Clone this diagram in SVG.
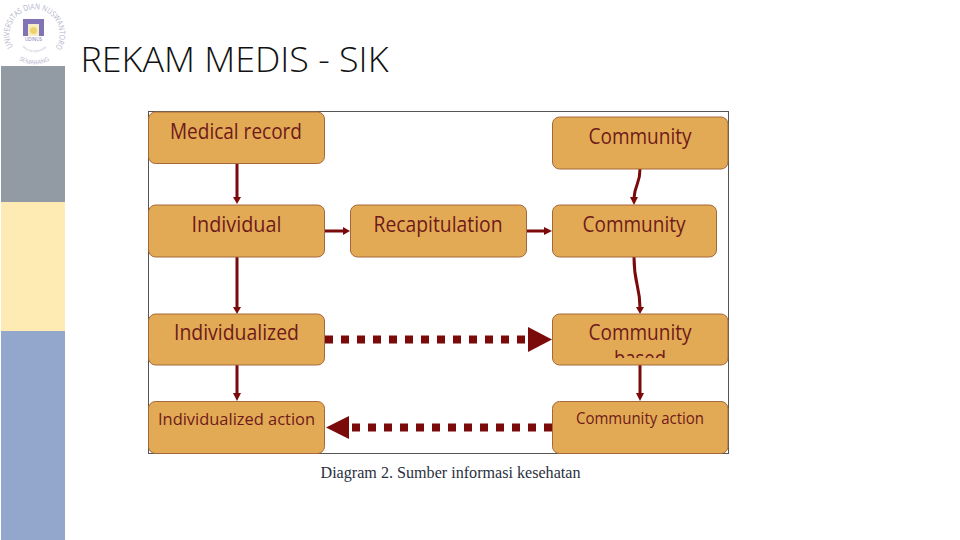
<svg xmlns="http://www.w3.org/2000/svg" width="960" height="540" viewBox="0 0 960 540">
<style>
.n{fill:#e3aa55;stroke:#a5683a;stroke-width:1}
.t{font-family:"Open Sans","Noto Sans",sans-serif;fill:#6e1a1a;text-anchor:middle;font-size:21px}
.s{font-size:17px}
.c{stroke:#7b0a0a;stroke-width:3;fill:none}
.d{stroke:#7b0a0a;stroke-width:8;stroke-dasharray:8 8;fill:none}
.h{fill:#7b0a0a}
.l{font-family:"Open Sans","Noto Sans",sans-serif;fill:#b4b4cc}
</style>
<defs>
<path id="arc" d="M13 47A25 25 0 1 1 56 47"/>
<path id="arcb" d="M19 60A29.500 29.500 0 0 0 50 60"/>
<path id="arci" d="M22 47A17.400 17.400 0 0 0 47 47"/>
<clipPath id="cb"><rect x="552" y="314" width="176" height="44"/></clipPath>
</defs>
<rect width="960" height="540" fill="#fff"/>
<g id="sidebar">
<rect x="1" y="66" width="64" height="136" fill="#929aa3"/>
<rect x="1" y="202" width="64" height="129" fill="#fdebb3"/>
<rect x="1" y="331" width="64" height="209" fill="#92a7cb"/>
</g>
<g id="logo">
<text class="l" style="font-size:8px"><textPath href="#arc" textLength="106" lengthAdjust="spacingAndGlyphs">UNIVERSITAS DIAN NUSWANTORO</textPath></text>
<text class="l" style="font-size:6px"><textPath href="#arcb" textLength="32" lengthAdjust="spacingAndGlyphs">SEMARANG</textPath></text>
<text class="l" style="font-size:3px"><textPath href="#arci" textLength="27" lengthAdjust="spacingAndGlyphs">FAKULTAS KESEHATAN</textPath></text>
<path d="M23 19H44V36H39V24H28V36H23Z" fill="#8173b5"/>
<rect x="28" y="24" width="11" height="12" fill="#f5edc4"/>
<circle cx="33.500" cy="30.500" r="3.500" fill="#efd36a"/>
<text x="33.500" y="41" text-anchor="middle" font-family="'Open Sans',sans-serif" font-size="4.500" fill="#8173b5">UDINUS</text>
</g>
<text id="title" x="80.500" y="72" font-family="'Open Sans','Noto Sans',sans-serif" font-weight="300" font-size="35" fill="#111" textLength="308" lengthAdjust="spacingAndGlyphs">REKAM MEDIS - SIK</text>
<g id="frame"><rect x="148.500" y="111.500" width="580" height="342" fill="#fff" stroke="#555" stroke-width="1"/></g>
<g id="connectors">
<path class="c" d="M237 164V198"/><path class="h" d="M233 197H241L237 204Z"/>
<path class="c" d="M325 231H345"/><path class="h" d="M343 227L350 231L343 235Z"/>
<path class="c" d="M527 231H546"/><path class="h" d="M544 227L552 231L544 235Z"/>
<path class="c" d="M640 169C640 185 635 183 634 198"/><path class="h" d="M630 197L638 197L634 205Z"/>
<path class="c" d="M634 257C634 285 640 285 640 308"/><path class="h" d="M636 307H644L640 314Z"/>
<path class="c" d="M237 257V308"/><path class="h" d="M233 307H241L237 314Z"/>
<path class="c" d="M237 365V394"/><path class="h" d="M233 393H241L237 401Z"/>
<path class="c" d="M640 365V394"/><path class="h" d="M636 393H644L640 401Z"/>
<path class="d" d="M325 339.500H528"/><path class="h" d="M528 327L552 339.500L528 352Z"/>
<path class="d" d="M552 427.500H351"/><path class="h" d="M349 416L326 427.500L349 439Z"/>
</g>
<g id="medical-record"><rect class="n" x="148.500" y="112" width="176" height="51.500" rx="7"/><text class="t" x="236" y="139" textLength="132" lengthAdjust="spacingAndGlyphs">Medical record</text></g>
<g id="individual"><rect class="n" x="148.500" y="205" width="176" height="52" rx="7"/><text class="t" x="236.500" y="232" textLength="90" lengthAdjust="spacingAndGlyphs">Individual</text></g>
<g id="recapitulation"><rect class="n" x="350.500" y="205" width="176" height="52" rx="7"/><text class="t" x="438" y="232" textLength="129" lengthAdjust="spacingAndGlyphs">Recapitulation</text></g>
<g id="community-top"><rect class="n" x="552.500" y="117" width="175.500" height="52" rx="7"/><text class="t" x="640" y="144" textLength="103" lengthAdjust="spacingAndGlyphs">Community</text></g>
<g id="community-mid"><rect class="n" x="552.500" y="205" width="164" height="52" rx="7"/><text class="t" x="634" y="232" textLength="103" lengthAdjust="spacingAndGlyphs">Community</text></g>
<g id="individualized"><rect class="n" x="148.500" y="314" width="176" height="51" rx="7"/><text class="t" x="236.500" y="340" textLength="125" lengthAdjust="spacingAndGlyphs">Individualized</text></g>
<g id="community-based"><rect class="n" x="552.500" y="314" width="175.500" height="51" rx="7"/><text class="t" x="640" y="340" textLength="103" lengthAdjust="spacingAndGlyphs">Community</text><text class="t" x="640" y="366" clip-path="url(#cb)" textLength="52" lengthAdjust="spacingAndGlyphs">based</text></g>
<g id="individualized-action"><rect class="n" x="148.500" y="401.500" width="176" height="52" rx="7"/><text class="t s" x="236.500" y="425" textLength="157" lengthAdjust="spacingAndGlyphs">Individualized action</text></g>
<g id="community-action"><rect class="n" x="552.500" y="401.500" width="175.500" height="52" rx="7"/><text class="t s" x="640" y="424" textLength="128" lengthAdjust="spacingAndGlyphs">Community action</text></g>
<text id="caption" x="450.500" y="478" font-family="'Liberation Serif',serif" font-size="16" fill="#2a3040" text-anchor="middle" textLength="260" lengthAdjust="spacingAndGlyphs">Diagram 2. Sumber informasi kesehatan</text>
</svg>
